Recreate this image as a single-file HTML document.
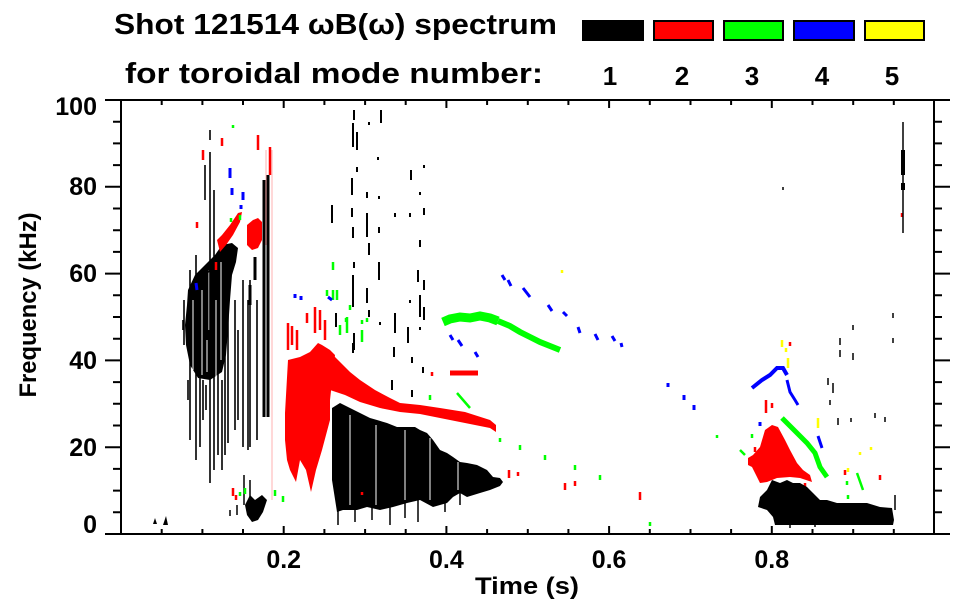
<!DOCTYPE html>
<html><head><meta charset="utf-8"><style>
html,body{margin:0;padding:0;background:#fff;}
svg{display:block;}
text{font-family:"Liberation Sans",Arial,sans-serif;font-weight:bold;fill:#000;}
</style></head><body>
<svg width="963" height="615" viewBox="0 0 963 615" xmlns="http://www.w3.org/2000/svg">
<rect width="963" height="615" fill="#fff"/>

<!-- Title -->
<text x="114" y="34" font-size="29" textLength="443" lengthAdjust="spacingAndGlyphs">Shot 121514 ωB(ω) spectrum</text>
<text x="125" y="83" font-size="29" textLength="418" lengthAdjust="spacingAndGlyphs">for toroidal mode number:</text>

<!-- Legend -->
<rect x="582" y="20" width="62" height="21" fill="#000"/>
<rect x="654" y="21" width="59" height="19" fill="#ff0000" stroke="#000" stroke-width="2"/>
<rect x="724" y="21" width="59" height="19" fill="#00ff00" stroke="#000" stroke-width="2"/>
<rect x="794" y="21" width="60" height="19" fill="#0000ff" stroke="#000" stroke-width="2"/>
<rect x="865" y="21" width="59" height="19" fill="#ffff00" stroke="#000" stroke-width="2"/>
<g font-size="26" text-anchor="middle">
<text x="610" y="85">1</text><text x="682" y="85">2</text><text x="752" y="85">3</text><text x="822" y="85">4</text><text x="892" y="85">5</text>
</g>

<!-- DATA -->
<g>
<!-- left early cluster -->
<polygon fill="#000" points="188,290 195,275 205,265 215,255 222,245 232,243 238,248 236,262 232,275 230,300 228,330 226,355 222,372 210,380 198,378 190,365 186,345 185,325 187,305"/>
<path fill="none" stroke="#fff" stroke-width="1" d="M193 300V370 M202 290V375 M209 270V330 M216 300V378 M221 262V360 M207 340V372"/>
<path fill="none" stroke="#000" stroke-width="1.6" d="M190 270V440 M196 255V460 M200 300V447 M210 152V483 M214 190V470 M218 280V455 M225 250V455 M228 280V443 M235 300V430 M243 280V447 M248 300V450 M250 280V447 M257 300V440 M205 165V200 M192 287L232 250 M184 300V345 M203 380V420 M222 380V470 M238 330V420 M210 130V140 M183 320V330 M188 380V400 M206 385V410"/>
<path fill="none" stroke="#000" stroke-width="3" d="M264 180V417 M268 175V417 M255 257V280 M250 285V305"/>
<!-- bottom black blob early -->
<polygon fill="#000" points="245,505 250,495 255,500 262,495 267,500 263,512 258,520 252,522 247,515"/>
<path fill="none" stroke="#000" stroke-width="1.5" d="M244 475V505 M250 480V500 M237 505V515 M230 510V516"/>
<polygon fill="#000" points="153,524 155,518 157,524"/>
<polygon fill="#000" points="163,525 166,516 168,525"/>

<!-- red rising band & blob -->
<polygon fill="#ff0000" points="217,240 222,235 230,225 238,213 242,212 240,222 233,235 226,245 220,252"/>
<polygon fill="#ff0000" points="247,225 253,220 258,218 262,222 262,240 258,248 252,250 247,245"/>
<path fill="none" stroke="#ffb0b0" stroke-width="1" d="M272 150V500 M266 150V245"/>

<!-- red big block -->
<polygon fill="#ff0000" points="288,360 300,357 310,352 318,343 322,345 330,350 335,355 330,400 330,420 322,450 316,470 311,492 306,470 300,460 296,482 290,470 287,460 285,440 285,413"/>
<!-- red band -->
<polygon fill="#ff0000" points="330,352 340,362 350,372 360,380 375,390 390,398 400,403 420,405 440,408 465,412 490,420 496,425 496,432 490,428 465,423 440,418 420,414 400,412 380,408 360,402 345,395 330,390"/>
<!-- black main block -->
<polygon fill="#000" points="332,408 340,403 348,407 360,413 370,418 377,420 387,423 397,427 407,427 415,427 420,430 427,433 433,440 440,450 447,453 453,457 460,462 467,463 477,465 487,470 493,477 500,478 503,482 500,486 490,490 480,493 467,497 460,493 453,497 447,503 433,507 420,500 407,503 393,507 380,510 367,507 357,510 343,510 337,512 332,480"/>
<path fill="none" stroke="#fff" stroke-width="1" d="M350 415V505 M376 425V505 M405 430V500 M430 438V500 M458 462V490"/>
<path fill="none" stroke="#000" stroke-width="1.5" d="M338 505V525 M355 505V522 M372 505V520 M390 505V525 M405 503V518 M418 500V522 M445 498V512 M460 492V505"/>

<!-- black scattered dashes middle -->
<path fill="none" stroke="#000" stroke-width="2" d="M354 110V120 M353 123V147 M357 132V150 M381 110V123 M369 122V125 M378 157V160 M357 167V172 M352 178V195 M367 192V198 M379 196V199 M411 170V180 M424 165V168 M420 192V195 M332 205V223 M352 208V217 M367 213V237 M353 227V238 M379 227V233 M395 213V217 M410 213V217 M424 208V215 M369 243V255 M420 240V247 M354 262V268 M379 262V280 M353 275V307 M367 288V303 M418 270V282 M424 280V290 M420 295V317 M424 307V320 M336 313V327 M395 313V333 M410 300V303 M369 310V317 M354 333V350 M408 327V343 M420 327V330 M380 322V325 M394 347V357 M412 357V363 M423 367V373 M353 343V353 M392 380V390 M412 390V397"/>

<!-- red extra dashes -->
<path fill="none" stroke="#ff0000" stroke-width="2.5" d="M203 150V160 M222 138V146 M258 135V150 M270 147V175 M197 222V228 M216 262V270 M432 372V376 M509 470V478 M518 472V476 M565 483V490 M575 481V486 M640 492V500 M362 492V495 M233 488V496 M236 495V500 M755 447V452 M790 342V346 M766 400V413 M772 403V408 M902 213V217 M805 483V488 M845 470V475 M880 475V480 M288 323V350 M292 326V345 M297 330V350 M315 307V333 M320 310V330 M307 313V323 M325 320V340"/>
<path fill="none" stroke="#ff0000" stroke-width="5" d="M450 373H478"/>

<!-- green main band -->
<path fill="none" stroke="#00ff00" stroke-width="9" d="M443 322 L450 319 L460 317 L470 318 L480 316 L490 318 L498 321"/>
<path fill="none" stroke="#00ff00" stroke-width="6" d="M498 321 L510 326 L520 332 L530 337 L540 342 L550 346 L560 350"/>
<!-- green right diag -->
<path fill="none" stroke="#00ff00" stroke-width="5" d="M782 418 L797 433 L807 443 L815 453 L820 467 L827 477"/>
<path fill="none" stroke="#00ff00" stroke-width="2.5" d="M333 262V270 M333 290V300 M340 325V335 M346 318V322 M350 305V310 M362 320V324 M367 318V322 M457 393L470 408 M430 395V400 M500 438V442 M520 445V450 M545 455V460 M575 465V470 M600 475V480 M650 522V526 M233 125V128 M231 218V222 M240 215V220 M245 488V494 M240 492V496 M275 490V496 M283 496V502 M717 435V438 M752 434V438 M740 450L745 455 M857 473L863 490 M848 495V499 M800 470V476 M362 330V342 M347 317V333 M337 290V300 M327 290V296 M787 423L792 428 M847 481V485"/>

<!-- blue -->
<path fill="none" stroke="#0000ff" stroke-width="3" d="M502 275L505 280 M508 280L511 286 M523 288L530 297 M548 305L552 311 M563 312L567 316 M578 327L580 333 M595 334L598 340 M612 336L615 341 M621 343L622 347 M450 335L453 340 M458 340L462 346 M475 352L478 357 M196 283L197 290 M230 168V178 M232 188V195 M243 192V200 M241 205V209 M328 297L332 300 M301 296V300 M295 294V298 M668 383V387 M684 395V400 M694 405V410 M760 422V426 M818 436L822 448"/>
<path fill="none" stroke="#0000ff" stroke-width="4" d="M752 388 L762 380 L770 375 L777 368 L783 368 L787 375"/>
<path fill="none" stroke="#0000ff" stroke-width="3" d="M787 380 L790 392 L795 400 L798 405"/>

<!-- right red blob -->
<polygon fill="#ff0000" points="748,458 753,455 760,447 765,430 772,425 778,427 785,440 790,450 797,463 803,470 810,475 812,482 800,478 790,477 777,478 767,482 760,483 757,477 752,467 748,465"/>
<!-- right black -->
<polygon fill="#000" points="758,507 760,497 767,490 772,480 780,483 787,480 793,483 800,483 807,487 813,493 820,500 827,500 837,503 850,503 867,503 880,507 892,508 894,520 893,525 850,525 800,525 775,525 773,517 767,510"/>
<path fill="none" stroke="#000" stroke-width="1.5" d="M840 338V345 M840 350V357 M853 325V330 M853 353V360 M893 313V318 M893 338V343 M828 378V385 M833 383V393 M830 400V405 M838 418V425 M851 418V422 M875 413V418 M885 417V422 M783 187V190 M903 122V150 M903 175V233 M895 495V510 M790 505V528 M815 505V527"/>
<path fill="none" stroke="#000" stroke-width="4" d="M903 150V175 M903 183V190"/>

<!-- yellow -->
<path fill="none" stroke="#ffff00" stroke-width="2.5" d="M782 340V347 M786 348V352 M788 358V368 M818 418V428 M848 468V472 M860 452V455 M871 447V450 M562 270V273"/>
</g>

<!-- AXES -->
<g fill="none" stroke="#000" stroke-width="2">
<rect x="121" y="100" width="813" height="434"/>
<path d="M105 100H121 M105 186.8H121 M105 273.6H121 M105 360.4H121 M105 447.2H121 M105 534H121 M934 100H950 M934 186.8H950 M934 273.6H950 M934 360.4H950 M934 447.2H950 M934 534H950"/>
<path d="M113 512.3H121 M113 490.6H121 M113 468.9H121 M113 425.5H121 M113 403.8H121 M113 382.1H121 M113 338.7H121 M113 317H121 M113 295.3H121 M113 251.9H121 M113 230.2H121 M113 208.5H121 M113 165.1H121 M113 143.4H121 M113 121.7H121 M934 512.3H942 M934 490.6H942 M934 468.9H942 M934 425.5H942 M934 403.8H942 M934 382.1H942 M934 338.7H942 M934 317H942 M934 295.3H942 M934 251.9H942 M934 230.2H942 M934 208.5H942 M934 165.1H942 M934 143.4H942 M934 121.7H942"/>
<path d="M283.7 534V526 M446.4 534V526 M609.1 534V526 M771.8 534V526 M283.7 100V108 M446.4 100V108 M609.1 100V108 M771.8 100V108"/>
<path d="M161.7 534V529 M202.4 534V529 M243 534V529 M324.4 534V529 M365.1 534V529 M405.7 534V529 M487.1 534V529 M527.8 534V529 M568.4 534V529 M649.8 534V529 M690.5 534V529 M731.1 534V529 M812.5 534V529 M853.2 534V529 M893.8 534V529 M161.7 100V105 M202.4 100V105 M243 100V105 M324.4 100V105 M365.1 100V105 M405.7 100V105 M487.1 100V105 M527.8 100V105 M568.4 100V105 M649.8 100V105 M690.5 100V105 M731.1 100V105 M812.5 100V105 M853.2 100V105 M893.8 100V105"/>
</g>

<!-- tick labels -->
<g font-size="25" text-anchor="end">
<text x="97" y="115">100</text>
<text x="97" y="195">80</text>
<text x="97" y="282">60</text>
<text x="97" y="369">40</text>
<text x="97" y="456">20</text>
<text x="97" y="533">0</text>
</g>
<g font-size="25" text-anchor="middle">
<text x="283.7" y="568">0.2</text>
<text x="446.4" y="568">0.4</text>
<text x="609.1" y="568">0.6</text>
<text x="771.8" y="568">0.8</text>
</g>

<!-- axis titles -->
<text x="527" y="594" font-size="24" text-anchor="middle" textLength="104" lengthAdjust="spacingAndGlyphs">Time (s)</text>
<text transform="translate(36,305) rotate(-90)" font-size="24" text-anchor="middle" textLength="185" lengthAdjust="spacingAndGlyphs">Frequency (kHz)</text>
</svg>
</body></html>
